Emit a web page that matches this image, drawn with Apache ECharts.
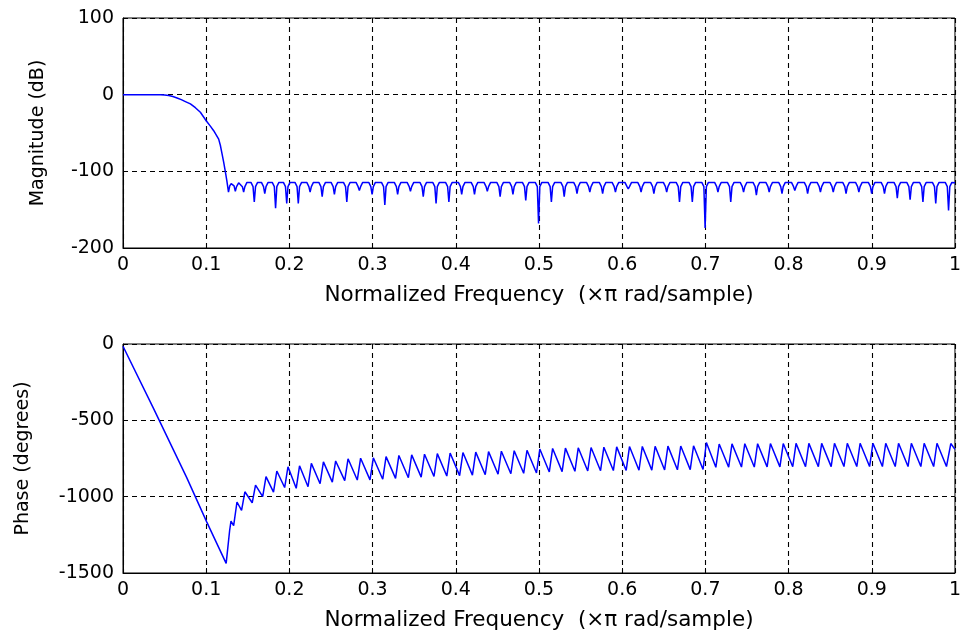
<!DOCTYPE html>
<html>
<head>
<meta charset="utf-8">
<script src="https://cdn.jsdelivr.net/npm/echarts@6/dist/echarts.min.js"></script>
<style>
html,body{margin:0;padding:0;background:#fff;}
#c{width:964px;height:634px;}
</style>
</head>
<body>
<div id="c"></div>
<script>
// ---- tick labels ----
const freqTicks = ['0','0.1','0.2','0.3','0.4','0.5','0.6','0.7','0.8','0.9','1'];
const magTicks = ['-200','-100','0','100'];
const phaseTicks = ['-1500','-1000','-500','0'];
const xName = 'Normalized Frequency  (\u00d7\u03c0 rad/sample)';

// ---- magnitude (dB) : passband and transition ----
const magPass = [[0,0],[0.045,0],[0.05,-0.4],[0.055,-1.2],[0.06,-2.5],[0.065,-4.3],[0.07,-6.5],[0.075,-9],
  [0.081,-12],[0.087,-17],[0.093,-23],[0.1,-34],[0.105,-41],[0.109,-47],[0.115,-58],[0.117,-66],
  [0.119,-77],[0.121,-88],[0.1228,-99],[0.1248,-112],[0.1268,-127]];

// ---- magnitude (dB) : stopband lobes (dip, shoulders, top) ----
const magStop = [
  [0.1283,-119],[0.1300,-116],[0.1318,-116],[0.1335,-119],[0.1350,-126],
  [0.1365,-120],[0.1390,-115],[0.1410,-115],[0.1435,-120],[0.1450,-127],
  [0.1465,-120],[0.1490,-114.5],[0.1538,-114.5],[0.1563,-120],[0.1578,-140],
  [0.1593,-120],[0.1618,-114.5],[0.1664,-114.5],[0.1689,-120],[0.1704,-129],
  [0.1719,-120],[0.1744,-114.5],[0.1794,-114.5],[0.1819,-120],[0.1834,-148],
  [0.1849,-120],[0.1874,-114.5],[0.1928,-114.5],[0.1953,-120],[0.1968,-142],
  [0.1983,-120],[0.2008,-114.5],[0.2067,-114.5],[0.2092,-120],[0.2107,-142],
  [0.2122,-120],[0.2147,-114.5],[0.2209,-114.5],[0.2234,-120],[0.2249,-127],
  [0.2264,-120],[0.2289,-114.5],[0.2354,-114.5],[0.2379,-120],[0.2394,-133],
  [0.2409,-120],[0.2434,-114.5],[0.2501,-114.5],[0.2526,-120],[0.2541,-130],
  [0.2556,-120],[0.2581,-114.5],[0.2650,-114.5],[0.2675,-120],[0.2690,-140],
  [0.2705,-120],[0.2730,-114.5],[0.2801,-114.5],[0.2826,-120],[0.2841,-125],
  [0.2856,-120],[0.2881,-114.5],[0.2954,-114.5],[0.2979,-120],[0.2994,-130],
  [0.3009,-120],[0.3034,-114.5],[0.3107,-114.5],[0.3132,-120],[0.3147,-144],
  [0.3162,-120],[0.3187,-114.5],[0.3261,-114.5],[0.3286,-120],[0.3301,-130],
  [0.3316,-120],[0.3341,-114.5],[0.3415,-114.5],[0.3440,-120],[0.3455,-126],
  [0.3470,-120],[0.3495,-114.5],[0.3569,-114.5],[0.3594,-120],[0.3609,-133],
  [0.3624,-120],[0.3649,-114.5],[0.3723,-114.5],[0.3748,-120],[0.3763,-142],
  [0.3778,-120],[0.3803,-114.5],[0.3877,-114.5],[0.3902,-120],[0.3917,-140],
  [0.3932,-120],[0.3957,-114.5],[0.4031,-114.5],[0.4056,-120],[0.4071,-130],
  [0.4086,-120],[0.4111,-114.5],[0.4185,-114.5],[0.4210,-120],[0.4225,-130],
  [0.4240,-120],[0.4265,-114.5],[0.4339,-114.5],[0.4364,-120],[0.4379,-126],
  [0.4394,-120],[0.4419,-114.5],[0.4493,-114.5],[0.4518,-120],[0.4533,-133],
  [0.4548,-120],[0.4573,-114.5],[0.4647,-114.5],[0.4672,-120],[0.4687,-130],
  [0.4702,-120],[0.4727,-114.5],[0.4801,-114.5],[0.4826,-120],[0.4841,-138],
  [0.4856,-120],[0.4881,-114.5],[0.4955,-114.5],[0.4980,-120],[0.4995,-168],
  [0.5010,-120],[0.5035,-114.5],[0.5109,-114.5],[0.5134,-120],[0.5149,-140],
  [0.5164,-120],[0.5189,-114.5],[0.5263,-114.5],[0.5288,-120],[0.5303,-133],
  [0.5318,-120],[0.5343,-114.5],[0.5417,-114.5],[0.5442,-120],[0.5457,-129],
  [0.5472,-120],[0.5497,-114.5],[0.5571,-114.5],[0.5596,-120],[0.5611,-127],
  [0.5626,-120],[0.5651,-114.5],[0.5725,-114.5],[0.5750,-120],[0.5765,-129],
  [0.5780,-120],[0.5805,-114.5],[0.5879,-114.5],[0.5904,-120],[0.5919,-127],
  [0.5934,-120],[0.5959,-114.5],[0.6033,-114.5],[0.6058,-120],[0.6073,-123],
  [0.6088,-120],[0.6113,-114.5],[0.6187,-114.5],[0.6212,-120],[0.6227,-127],
  [0.6242,-120],[0.6267,-114.5],[0.6341,-114.5],[0.6366,-120],[0.6381,-129],
  [0.6396,-120],[0.6421,-114.5],[0.6495,-114.5],[0.6520,-120],[0.6535,-127],
  [0.6550,-120],[0.6575,-114.5],[0.6649,-114.5],[0.6674,-120],[0.6689,-140],
  [0.6704,-120],[0.6729,-114.5],[0.6803,-114.5],[0.6828,-120],[0.6843,-140],
  [0.6858,-120],[0.6883,-114.5],[0.6957,-114.5],[0.6982,-120],[0.6997,-174],
  [0.7012,-120],[0.7037,-114.5],[0.7111,-114.5],[0.7136,-120],[0.7151,-127],
  [0.7166,-120],[0.7191,-114.5],[0.7265,-114.5],[0.7290,-120],[0.7305,-140],
  [0.7320,-120],[0.7345,-114.5],[0.7419,-114.5],[0.7444,-120],[0.7459,-127],
  [0.7474,-120],[0.7499,-114.5],[0.7573,-114.5],[0.7598,-120],[0.7613,-131],
  [0.7628,-120],[0.7653,-114.5],[0.7727,-114.5],[0.7752,-120],[0.7767,-127],
  [0.7782,-120],[0.7807,-114.5],[0.7881,-114.5],[0.7906,-120],[0.7921,-129],
  [0.7936,-120],[0.7961,-114.5],[0.8035,-114.5],[0.8060,-120],[0.8075,-125],
  [0.8090,-120],[0.8115,-114.5],[0.8189,-114.5],[0.8214,-120],[0.8229,-129],
  [0.8244,-120],[0.8269,-114.5],[0.8343,-114.5],[0.8368,-120],[0.8383,-127],
  [0.8398,-120],[0.8423,-114.5],[0.8497,-114.5],[0.8522,-120],[0.8537,-127],
  [0.8552,-120],[0.8577,-114.5],[0.8651,-114.5],[0.8676,-120],[0.8691,-129],
  [0.8706,-120],[0.8731,-114.5],[0.8805,-114.5],[0.8830,-120],[0.8845,-127],
  [0.8860,-120],[0.8885,-114.5],[0.8959,-114.5],[0.8984,-120],[0.8999,-129],
  [0.9014,-120],[0.9039,-114.5],[0.9113,-114.5],[0.9138,-120],[0.9153,-129],
  [0.9168,-120],[0.9193,-114.5],[0.9267,-114.5],[0.9292,-120],[0.9307,-135],
  [0.9322,-120],[0.9347,-114.5],[0.9421,-114.5],[0.9446,-120],[0.9461,-137],
  [0.9476,-120],[0.9501,-114.5],[0.9575,-114.5],[0.9600,-120],[0.9615,-140],
  [0.9630,-120],[0.9655,-114.5],[0.9729,-114.5],[0.9754,-120],[0.9769,-142],
  [0.9784,-120],[0.9809,-114.5],[0.9883,-114.5],[0.9908,-120],[0.9923,-151],
  [0.9938,-120],[0.9963,-114.5],[1.0,-115]
];

// ---- phase (degrees) : passband and transition ----
const phasePass = [[0,-15],[0.0365,-420],[0.0766,-875],[0.1006,-1165],[0.124,-1437]];
const phaseTransition = [[0.1282,-1220],[0.1298,-1160],[0.1330,-1190],[0.1370,-1035]];

// ---- phase (degrees) : stopband sawtooth (trough, peak) ----
const phaseStop = [
  [0.1425,-1090],[0.1465,-968],
  [0.1553,-1040],[0.1593,-924],
  [0.1679,-1000],[0.1719,-869],
  [0.1809,-970],[0.1849,-832],
  [0.1943,-940],[0.1983,-804],
  [0.2082,-945],[0.2122,-798],
  [0.2224,-935],[0.2264,-782],
  [0.2369,-915],[0.2409,-772],
  [0.2516,-905],[0.2556,-766],
  [0.2665,-895],[0.2705,-752],
  [0.2816,-891],[0.2856,-748],
  [0.2969,-890],[0.3009,-745],
  [0.3122,-886],[0.3162,-738],
  [0.3276,-880],[0.3316,-730],
  [0.3430,-876],[0.3470,-726],
  [0.3584,-872],[0.3624,-722],
  [0.3738,-868],[0.3778,-718],
  [0.3892,-865],[0.3932,-714],
  [0.4046,-862],[0.4086,-711],
  [0.4200,-859],[0.4240,-708],
  [0.4354,-856],[0.4394,-705],
  [0.4508,-853],[0.4548,-702],
  [0.4662,-850],[0.4702,-699],
  [0.4816,-847],[0.4856,-696],
  [0.4970,-845],[0.5010,-688],
  [0.5124,-838],[0.5164,-684],
  [0.5278,-836],[0.5318,-682],
  [0.5432,-834],[0.5472,-680],
  [0.5586,-832],[0.5626,-678],
  [0.5740,-830],[0.5780,-676],
  [0.5894,-829],[0.5934,-674],
  [0.6048,-828],[0.6088,-672],
  [0.6202,-827],[0.6242,-671],
  [0.6356,-826],[0.6396,-670],
  [0.6510,-825],[0.6550,-669],
  [0.6664,-824],[0.6704,-668],
  [0.6818,-823],[0.6858,-667],
  [0.6972,-822],[0.7012,-645],
  [0.7126,-808],[0.7166,-655],
  [0.7280,-807],[0.7320,-654],
  [0.7434,-806],[0.7474,-653],
  [0.7588,-806],[0.7628,-653],
  [0.7742,-805],[0.7782,-652],
  [0.7896,-805],[0.7936,-652],
  [0.8050,-804],[0.8090,-651],
  [0.8204,-804],[0.8244,-651],
  [0.8358,-804],[0.8398,-651],
  [0.8512,-803],[0.8552,-650],
  [0.8666,-803],[0.8706,-650],
  [0.8820,-803],[0.8860,-650],
  [0.8974,-803],[0.9014,-650],
  [0.9128,-803],[0.9168,-650],
  [0.9282,-803],[0.9322,-650],
  [0.9436,-803],[0.9476,-650],
  [0.9590,-803],[0.9630,-650],
  [0.9744,-803],[0.9784,-650],
  [0.9898,-803],[0.9950,-652],
  [1.0,-690]
];

const magData = magPass.concat(magStop);
const phaseData = phasePass.concat(phaseTransition, phaseStop);

const FONT = 'DejaVu Sans, Liberation Sans, Arial, sans-serif';
const FS_TICK = 19;
const FS_YNAME = 19;
const FS_XNAME = 21.5;
const tickIndex = (v, step, base) => Math.round((v - base) / step);
const gridLine = { show: true, lineStyle: { color: '#000', type: [5, 4], width: 1.1 } };

function xAxisCfg(gridIndex) {
  return {
    type: 'value', gridIndex, min: 0, max: 1, interval: 0.1,
    name: xName, nameLocation: 'middle', nameGap: 36,
    nameTextStyle: { color: '#000', fontSize: FS_XNAME, fontFamily: FONT },
    axisLine: { show: true, onZero: false, lineStyle: { color: '#000', width: 1 } },
    axisTick: { show: true, inside: true, length: 5, lineStyle: { color: '#000' } },
    axisLabel: { color: '#000', fontSize: FS_TICK, fontFamily: FONT, margin: 8,
      formatter: v => freqTicks[tickIndex(v, 0.1, 0)] },
    splitLine: gridLine
  };
}

function yAxisCfg(gridIndex, min, max, interval, name, gap, ticks) {
  return {
    type: 'value', gridIndex, min, max, interval,
    name, nameLocation: 'middle', nameGap: gap,
    nameTextStyle: { color: '#000', fontSize: FS_YNAME, fontFamily: FONT },
    axisLine: { show: true, onZero: false, lineStyle: { color: '#000' } },
    axisTick: { show: true, inside: true, length: 5, lineStyle: { color: '#000' } },
    axisLabel: { color: '#000', fontSize: FS_TICK, fontFamily: FONT, margin: 9,
      formatter: v => ticks[tickIndex(v, interval, min)] },
    splitLine: gridLine
  };
}

const option = {
  animation: false,
  backgroundColor: '#fff',
  grid: [
    { left: 123, right: 9, top: 18, height: 230, show: true, borderColor: '#000', borderWidth: 1 },
    { left: 123, right: 9, top: 344, height: 229, show: true, borderColor: '#000', borderWidth: 1 }
  ],
  xAxis: [xAxisCfg(0), xAxisCfg(1)],
  yAxis: [
    yAxisCfg(0, -200, 100, 100, 'Magnitude (dB)', 75, magTicks),
    yAxisCfg(1, -1500, 0, 500, 'Phase (degrees)', 90, phaseTicks)
  ],
  series: [
    { type: 'line', xAxisIndex: 0, yAxisIndex: 0, data: magData, symbol: 'none',
      lineStyle: { color: '#0000ff', width: 1.5 }, itemStyle: { color: '#0000ff' }, clip: true, z: 5 },
    { type: 'line', xAxisIndex: 1, yAxisIndex: 1, data: phaseData, symbol: 'none',
      lineStyle: { color: '#0000ff', width: 1.5 }, itemStyle: { color: '#0000ff' }, clip: true, z: 5 }
  ]
};

const chart = echarts.init(document.getElementById('c'), null, { renderer: 'canvas' });
chart.setOption(option);
</script>
</body>
</html>
